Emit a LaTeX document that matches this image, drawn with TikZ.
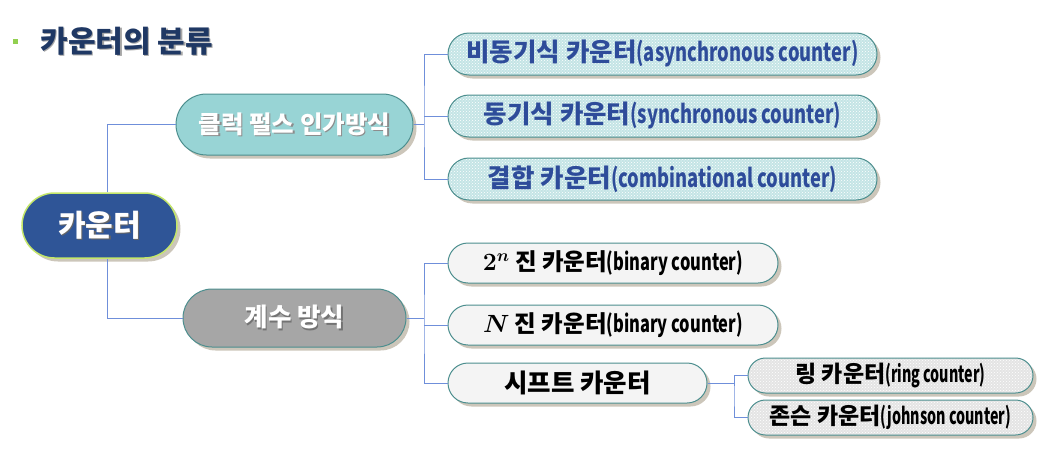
\documentclass[tikz,border=0pt]{standalone}
\usepackage{fontspec}
\newfontfamily\kr{Noto Sans CJK KR}
\usetikzlibrary{shapes.misc,shadows,patterns}
\definecolor{rootfill}{HTML}{2F5597}
\definecolor{rootedge}{HTML}{C4E66A}
\definecolor{clkfill}{HTML}{98D4D5}
\definecolor{cntfill}{HTML}{A6A6A6}
\definecolor{edgec}{HTML}{4C8E8E}
\definecolor{tealL}{HTML}{C4E4E5}
\definecolor{grayL}{HTML}{E4E4E4}
\definecolor{whiteL}{HTML}{F4F4F4}
\definecolor{shadowc}{HTML}{CCC6BA}
\definecolor{linec}{HTML}{6F8FDA}
\definecolor{bluetext}{HTML}{2E4C9A}
\definecolor{titlec}{HTML}{1F3864}
\definecolor{bulletc}{HTML}{92D050}
\newcommand\shd[2]{\makebox[0pt][l]{\hspace{1.3pt}\raisebox{-1.3pt}{\color{#1}#2}}#2}
\newcommand\lat[2][0.72]{\scalebox{#1}[1]{#2}}
\begin{document}
\begin{tikzpicture}[x=1pt,y=-1pt,
  pill/.style={rounded rectangle, inner sep=0pt, draw=edgec, line width=1pt,
    drop shadow={shadow xshift=3.5pt, shadow yshift=-3.5pt, fill=shadowc, opacity=1}},
  conn/.style={draw=linec, line width=1pt},
  big/.style={font=\kr\bfseries\fontsize{25.5}{29}\selectfont},
  mid/.style={font=\kr\bfseries\fontsize{25.5}{29}\selectfont},
  sml/.style={font=\kr\bfseries\fontsize{23.5}{27}\selectfont\boldmath},
  tiny/.style={font=\kr\bfseries\fontsize{23}{27}\selectfont},
  dotted teal/.style={preaction={fill=tealL}, pattern=crosshatch dots, pattern color=white},
  dotted gray/.style={preaction={fill=grayL}, pattern=crosshatch dots, pattern color=white},
]
\useasboundingbox (0,0) rectangle (1063,455);
% title
\node[fill=bulletc, minimum size=5pt, inner sep=0pt] (bul) at (15.5,41) {};
\node[anchor=west, text=titlec, font=\kr\bfseries\fontsize{30}{34}\selectfont] (title) at (37,42) {\shd{black!35}{카운터의 분류}};
% main nodes
\node[pill, draw=rootedge, line width=1.5pt, fill=rootfill, minimum width=155pt, minimum height=65pt, text=white,
  font=\kr\bfseries\fontsize{30}{34}\selectfont] (root) at (99.5,225.5) {\shd{black!60}{카운터}};
\node[pill, fill=clkfill, minimum width=237pt, minimum height=61pt, text=white, font=\kr\bfseries\fontsize{24.5}{28}\selectfont] (clk) at (294.5,124.5) {\shd{black!45}{클럭 펄스 인가방식}};
\node[pill, fill=cntfill, minimum width=223pt, minimum height=58pt, text=white, big] (cnt) at (294.5,318) {\shd{black!55}{계수 방식}};
% top group
\node[pill, dotted teal, minimum width=429pt, minimum height=42pt, text=bluetext, mid] (a1) at (662.5,54) {비동기식 카운터\lat{(asynchronous counter)}};
\node[pill, dotted teal, minimum width=429pt, minimum height=42pt, text=bluetext, mid] (a2) at (662.5,116) {동기식 카운터\lat{(synchronous counter)}};
\node[pill, dotted teal, minimum width=429pt, minimum height=42pt, text=bluetext, mid] (a3) at (662.5,179) {결합 카운터\lat{(combinational counter)}};
% bottom group
\node[pill, fill=whiteL, minimum width=330pt, minimum height=40pt, text=black, sml] (b1) at (613,263) {$2^{n}$ 진 카운터\lat[0.7]{(binary counter)}};
\node[pill, fill=whiteL, minimum width=330pt, minimum height=40pt, text=black, sml] (b2) at (613,325) {$N$ 진 카운터\lat[0.7]{(binary counter)}};
\node[pill, fill=whiteL, minimum width=259pt, minimum height=40pt, text=black, big] (b3) at (577.5,383) {시프트 카운터};
% shift sub group
\node[pill, dotted gray, minimum width=285pt, minimum height=35pt, text=black, tiny] (c1) at (890.5,375.5) {링 카운터\lat[0.62]{(ring counter)}};
\node[pill, dotted gray, minimum width=285pt, minimum height=35pt, text=black, tiny] (c2) at (890.5,417.5) {존슨 카운터\lat[0.62]{(johnson counter)}};
% bus coordinates
\coordinate (busA) at (424,116);
\coordinate (busB) at (424,325);
\coordinate (busC) at (734,396);
% connectors
\draw[conn] ([xshift=7.5pt]root.north) |- (clk.west);
\draw[conn] ([xshift=7.5pt]root.south) |- (cnt.west);
\draw[conn] (a1.west) -| (busA) |- (a3.west);
\draw[conn] (a2.west) -- (a2.west -| busA);
\draw[conn] (clk.east) -- (clk.east -| busA);
\draw[conn] (b1.west) -| (busB) |- (b3.west);
\draw[conn] (b2.west) -- (b2.west -| busB);
\draw[conn] (cnt.east) -- (cnt.east -| busB);
\draw[conn] (c1.west) -| (busC) |- (c2.west);
\draw[conn] (b3.east) -- (b3.east -| busC);
\end{tikzpicture}
\end{document}
